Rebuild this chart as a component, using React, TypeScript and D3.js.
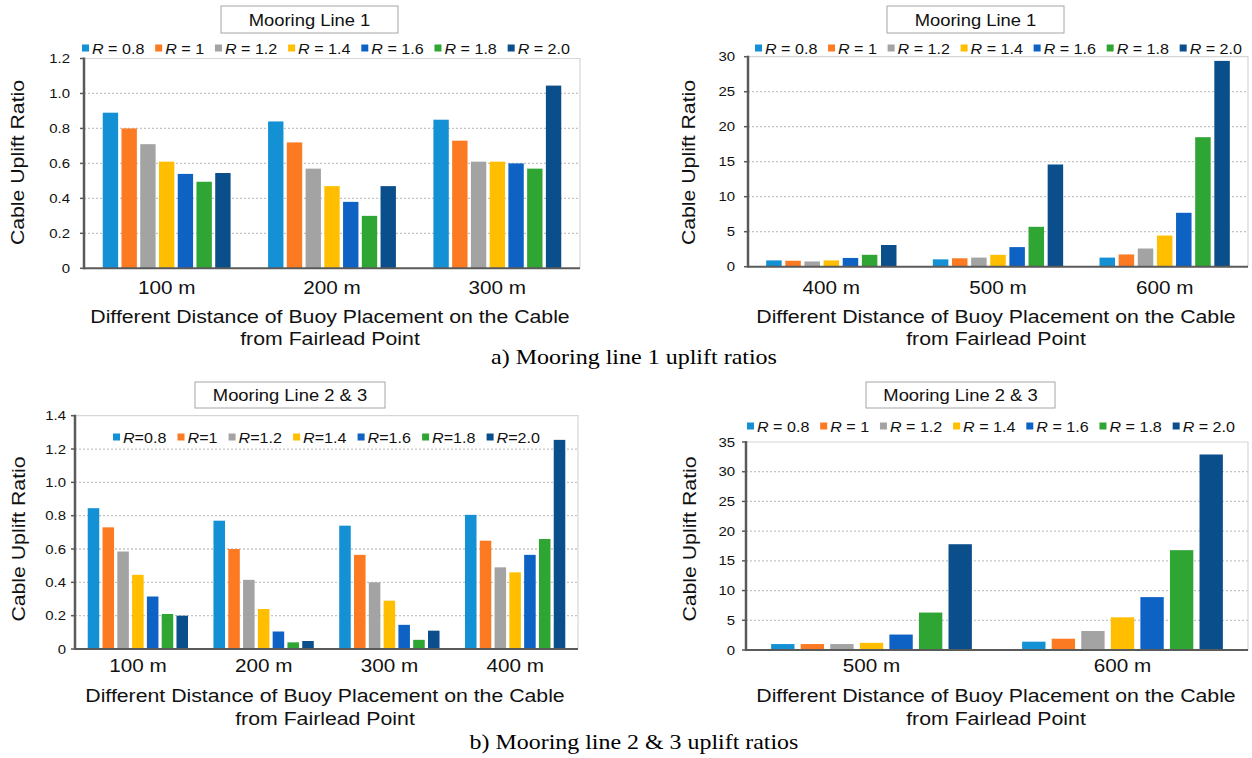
import React, { useEffect, useRef } from "react";
import * as d3 from "d3";

// ---------- data ----------
const SERIES = ["0.8", "1", "1.2", "1.4", "1.6", "1.8", "2.0"];
const COLORS = ["#1490d4", "#fb7a22", "#a3a3a3", "#ffbf00", "#0d62c4", "#2fa533", "#0a4e8b"];

// Mooring line 1, near distances
const line1NearCats = ["100 m", "200 m", "300 m"];
const line1Near100 = [0.89, 0.8, 0.71, 0.61, 0.54, 0.495, 0.545];
const line1Near200 = [0.84, 0.72, 0.57, 0.47, 0.38, 0.3, 0.47];
const line1Near300 = [0.85, 0.73, 0.61, 0.61, 0.6, 0.57, 1.045];

// Mooring line 1, far distances
const line1FarCats = ["400 m", "500 m", "600 m"];
const line1Far400 = [0.9, 0.85, 0.75, 0.9, 1.25, 1.7, 3.1];
const line1Far500 = [1.05, 1.2, 1.3, 1.7, 2.8, 5.7, 14.6];
const line1Far600 = [1.3, 1.75, 2.6, 4.45, 7.7, 18.5, 29.4];

// Mooring line 2 & 3, near distances
const line23NearCats = ["100 m", "200 m", "300 m", "400 m"];
const line23Near100 = [0.845, 0.73, 0.585, 0.445, 0.315, 0.21, 0.2];
const line23Near200 = [0.77, 0.6, 0.415, 0.24, 0.105, 0.04, 0.048];
const line23Near300 = [0.74, 0.565, 0.4, 0.29, 0.145, 0.055, 0.11];
const line23Near400 = [0.805, 0.65, 0.49, 0.46, 0.565, 0.66, 1.255];

// Mooring line 2 & 3, far distances
const line23FarCats = ["500 m", "600 m"];
const line23Far500 = [1.0, 1.0, 1.0, 1.2, 2.6, 6.3, 17.8];
const line23Far600 = [1.4, 1.9, 3.2, 5.5, 8.9, 16.8, 32.9];

const AXIS_TITLE_1 = "Different Distance of Buoy Placement on the Cable";
const AXIS_TITLE_2 = "from Fairlead Point";
const Y_TITLE = "Cable Uplift Ratio";
const CAPTION_A = "a) Mooring line 1 uplift ratios";
const CAPTION_B = "b) Mooring line 2 & 3 uplift ratios";

// ---------- layout ----------
const SANS = "'Liberation Sans', Arial, Helvetica, sans-serif";
const SERIF = "'Liberation Serif', 'Times New Roman', serif";
const SX = 1.15;

type Panel = {
  title: string;
  box: [number, number, number, number];
  cats: string[];
  values: number[][];
  yMax: number;
  yStep: number;
  decimals: number;
  left: number;
  right: number;
  top: number;
  bottom: number;
  inner: number;
  outer: number;
  tickX: number;
  catY: number;
  titleX: number;
  titleY: [number, number];
  yTitleX: number;
  yTitleY: number;
  legendY: number;
  legendX: [number, number];
  legendSpaced: boolean;
};

const panels: Panel[] = [
  {
    title: "Mooring Line 1",
    box: [221, 6, 398, 33],
    cats: line1NearCats,
    values: [line1Near100, line1Near200, line1Near300],
    yMax: 1.2, yStep: 0.2, decimals: 1,
    left: 84, right: 580, top: 58.5, bottom: 268.3,
    inner: 0.18, outer: 1.0,
    tickX: 70, catY: 288,
    titleX: 330, titleY: [316.5, 339],
    yTitleX: 18, yTitleY: 162.5,
    legendY: 48, legendX: [82, 570], legendSpaced: true,
  },
  {
    title: "Mooring Line 1",
    box: [887, 6, 1064, 33],
    cats: line1FarCats,
    values: [line1Far400, line1Far500, line1Far600],
    yMax: 30, yStep: 5, decimals: 0,
    left: 748, right: 1248, top: 56.7, bottom: 266.7,
    inner: 0.19, outer: 0.95,
    tickX: 735, catY: 288,
    titleX: 996, titleY: [316.5, 339],
    yTitleX: 689, yTitleY: 162.5,
    legendY: 48, legendX: [755, 1242], legendSpaced: true,
  },
  {
    title: "Mooring Line 2 & 3",
    box: [195, 382, 385, 408],
    cats: line23NearCats,
    values: [line23Near100, line23Near200, line23Near300, line23Near400],
    yMax: 1.4, yStep: 0.2, decimals: 1,
    left: 75, right: 578, top: 415.7, bottom: 649,
    inner: 0.22, outer: 0.86,
    tickX: 66, catY: 665.7,
    titleX: 325, titleY: [696, 719],
    yTitleX: 19, yTitleY: 539,
    legendY: 437, legendX: [113, 540], legendSpaced: false,
  },
  {
    title: "Mooring Line 2 & 3",
    box: [866, 382, 1055, 408],
    cats: line23FarCats,
    values: [line23Far500, line23Far600],
    yMax: 35, yStep: 5, decimals: 0,
    left: 746, right: 1248, top: 442, bottom: 650,
    inner: 0.21, outer: 0.85,
    tickX: 735, catY: 665.7,
    titleX: 996, titleY: [696, 719],
    yTitleX: 690, yTitleY: 539,
    legendY: 426, legendX: [747, 1235], legendSpaced: true,
  },
];

type Sel = d3.Selection<any, any, any, any>;

function stext(parent: Sel, x: number, y: number, str: string, size: number, anchor = "middle", sx = SX, family = SANS) {
  return parent
    .append("text")
    .attr("transform", `translate(${x},${y}) scale(${sx},1)`)
    .attr("text-anchor", anchor)
    .attr("dominant-baseline", "central")
    .attr("font-family", family)
    .attr("font-size", size)
    .attr("fill", "#111")
    .text(str);
}

function drawPanel(svg: Sel, p: Panel) {
  const g = svg.append("g");
  const y = d3.scaleLinear().domain([0, p.yMax]).range([p.bottom, p.top]);
  const x0 = d3.scaleBand<string>().domain(p.cats).range([p.left, p.right]).padding(0);
  const x1 = d3
    .scaleBand<string>()
    .domain(SERIES)
    .range([0, x0.bandwidth()])
    .paddingInner(p.inner)
    .paddingOuter(p.outer);
  const ticks = d3.range(0, p.yMax + p.yStep / 2, p.yStep);
  const fmt = (v: number) => (v === 0 ? "0" : d3.format(`.${p.decimals}f`)(v));

  // gridlines
  g.selectAll("line.grid")
    .data(ticks.slice(1, -1))
    .join("line")
    .attr("x1", p.left)
    .attr("x2", p.right)
    .attr("y1", (d) => y(d))
    .attr("y2", (d) => y(d))
    .attr("stroke", "#c4c4c4")
    .attr("stroke-width", 1.3)
    .attr("stroke-dasharray", "2,2");

  // plot border (top, right)
  g.append("path")
    .attr("d", `M${p.left},${y(p.yMax)}H${p.right}V${p.bottom}`)
    .attr("fill", "none")
    .attr("stroke", "#d6d6d6")
    .attr("stroke-width", 1.2);

  // bars
  p.cats.forEach((c, ci) => {
    g.append("g")
      .selectAll("rect")
      .data(p.values[ci])
      .join("rect")
      .attr("x", (_d, si) => (x0(c) as number) + (x1(SERIES[si]) as number))
      .attr("width", x1.bandwidth())
      .attr("y", (d) => y(d))
      .attr("height", (d) => y(0) - y(d))
      .attr("fill", (_d, si) => COLORS[si]);
  });

  // axes
  g.append("line")
    .attr("x1", p.left).attr("x2", p.left)
    .attr("y1", y(p.yMax) - 1).attr("y2", p.bottom + 1)
    .attr("stroke", "#5a5a5a").attr("stroke-width", 2.5);
  g.append("line")
    .attr("x1", p.left).attr("x2", p.right)
    .attr("y1", p.bottom).attr("y2", p.bottom)
    .attr("stroke", "#5a5a5a").attr("stroke-width", 2);
  g.selectAll("line.tick")
    .data(ticks)
    .join("line")
    .attr("x1", p.left - 4)
    .attr("x2", p.left)
    .attr("y1", (d) => y(d))
    .attr("y2", (d) => y(d))
    .attr("stroke", "#5a5a5a")
    .attr("stroke-width", 1.5);

  ticks.forEach((t) => stext(g, p.tickX, y(t), fmt(t), 13, "end"));

  p.cats.forEach((c) => stext(g, (x0(c) as number) + x0.bandwidth() / 2, p.catY, c, 18));

  stext(g, p.titleX, p.titleY[0], AXIS_TITLE_1, 18.5);
  stext(g, p.titleX, p.titleY[1], AXIS_TITLE_2, 18.5);

  g.append("text")
    .attr("transform", `translate(${p.yTitleX},${p.yTitleY}) rotate(-90) scale(1.18,1)`)
    .attr("text-anchor", "middle")
    .attr("dominant-baseline", "central")
    .attr("font-family", SANS)
    .attr("font-size", 18)
    .attr("fill", "#111")
    .text(Y_TITLE);

  // title box
  const [bx0, by0, bx1, by1] = p.box;
  g.append("rect")
    .attr("x", bx0).attr("y", by0)
    .attr("width", bx1 - bx0).attr("height", by1 - by0)
    .attr("fill", "#fff").attr("stroke", "#a6a6a6").attr("stroke-width", 1);
  stext(g, (bx0 + bx1) / 2, (by0 + by1) / 2 + 0.5, p.title, 16);

  // legend
  const items = SERIES.map((s, i) => {
    const it = g.append("g");
    it.append("rect")
      .attr("x", 0).attr("y", p.legendY - 3.5)
      .attr("width", 7).attr("height", 7)
      .attr("fill", COLORS[i]);
    const t = it.append("text")
      .attr("transform", `translate(10,${p.legendY}) scale(${SX},1)`)
      .attr("dominant-baseline", "central")
      .attr("font-family", SANS)
      .attr("font-size", 14)
      .attr("fill", "#111")
      .style("white-space", "pre");
    t.append("tspan").attr("font-style", "italic").text("R");
    t.append("tspan").text(p.legendSpaced ? ` = ${s}` : `=${s}`);
    const w = 10 + (t.node() as SVGTextElement).getComputedTextLength() * SX;
    return { it, w };
  });
  const total = d3.sum(items, (d) => d.w);
  const gap = (p.legendX[1] - p.legendX[0] - total) / (items.length - 1);
  let cx = p.legendX[0];
  items.forEach(({ it, w }) => {
    it.attr("transform", `translate(${cx},0)`);
    cx += w + gap;
  });
}

function caption(svg: Sel, cxm: number, y: number, str: string, width: number) {
  const t = svg
    .append("text")
    .attr("text-anchor", "middle")
    .attr("font-family", SERIF)
    .attr("font-size", 22)
    .attr("fill", "#000")
    .text(str);
  const w = (t.node() as SVGTextElement).getComputedTextLength();
  t.attr("transform", `translate(${cxm},${y}) scale(${width / w},1)`);
}

export default function App() {
  const ref = useRef<SVGSVGElement>(null);
  useEffect(() => {
    const svg = d3.select(ref.current);
    svg.selectAll("*").remove();
    svg.append("rect").attr("width", 1252).attr("height", 758).attr("fill", "#fff");
    panels.forEach((p) => drawPanel(svg, p));
    caption(svg, 634, 364, CAPTION_A, 286);
    caption(svg, 634, 749, CAPTION_B, 329);
  }, []);
  return (
    <svg
      ref={ref}
      width={1252}
      height={758}
      style={{ position: "absolute", left: 0, top: 0, display: "block" }}
    />
  );
}
